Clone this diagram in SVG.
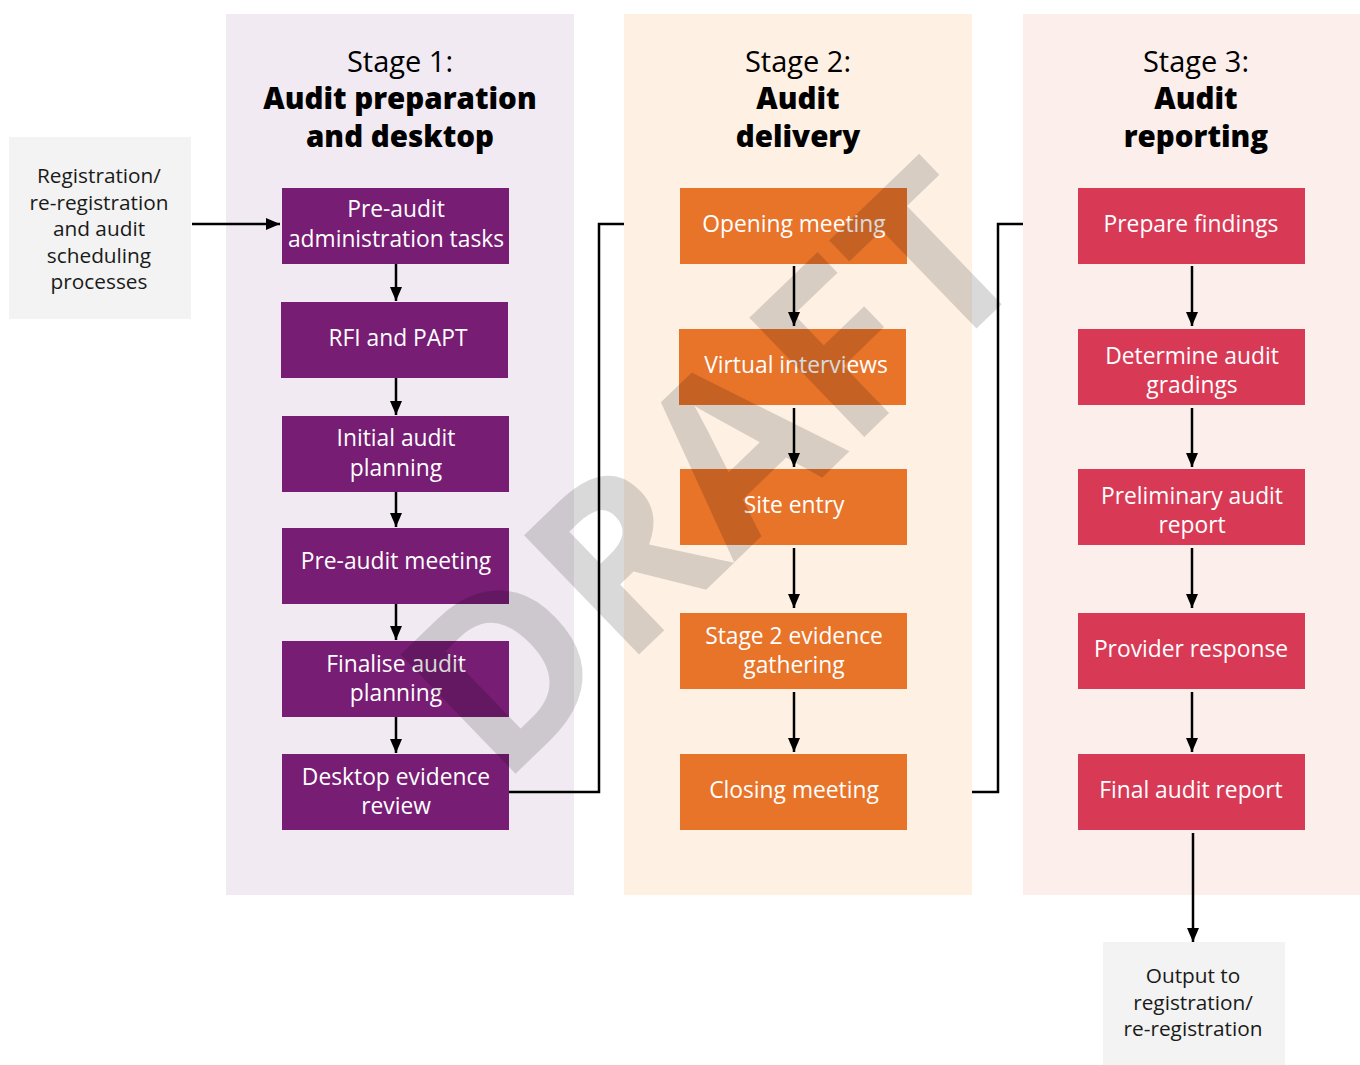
<svg xmlns="http://www.w3.org/2000/svg" width="1360" height="1065" viewBox="0 0 1360 1065">
<defs>
<marker id="ah" markerWidth="14" markerHeight="12" refX="14" refY="6" orient="auto" markerUnits="userSpaceOnUse">
<path d="M0,0 L14,6 L0,12 Z" fill="#000"/>
</marker>
<style>
text{font-family:"Open Sans","Noto Sans","DejaVu Sans",sans-serif;}
.bl{font-size:22.8px;fill:#fff;text-anchor:middle;}
.gl{font-size:20.8px;fill:#1a1a1a;text-anchor:middle;}
.hs{font-size:29px;fill:#000;text-anchor:middle;}
.hb{font-size:29.5px;font-weight:800;fill:#000;text-anchor:middle;}
.p{fill:#771D74;}
.o{fill:#E8742A;}
.r{fill:#D83A56;}
.g{fill:#F2F3F2;}
.ln{stroke:#000;stroke-width:2.5;fill:none;}
.ar{stroke:#000;stroke-width:2.5;fill:none;marker-end:url(#ah);}
</style>
</defs>
<rect width="1360" height="1065" fill="#fff"/>
<g id="columns">
<rect x="226" y="14" width="348" height="881" fill="#F1EAF3"/>
<rect x="624" y="14" width="348" height="881" fill="#FEF1E4"/>
<rect x="1023" y="14" width="337" height="881" fill="#FCEEEB"/>
</g>
<g id="stage1-header">
<text class="hs" x="400" y="72">Stage 1:</text>
<text class="hb" x="400" y="109">Audit preparation</text>
<text class="hb" x="400" y="147">and desktop</text>
</g>
<g id="stage2-header">
<text class="hs" x="798" y="72">Stage 2:</text>
<text class="hb" x="798" y="109">Audit</text>
<text class="hb" x="798" y="147">delivery</text>
</g>
<g id="stage3-header">
<text class="hs" x="1196" y="72">Stage 3:</text>
<text class="hb" x="1196" y="109">Audit</text>
<text class="hb" x="1196" y="147">reporting</text>
</g>
<g id="connectors">
<path class="ar" d="M192,224 H280"/>
<path class="ar" d="M396,264 V301"/>
<path class="ar" d="M396,378 V415"/>
<path class="ar" d="M396,492 V527"/>
<path class="ar" d="M396,604 V640"/>
<path class="ar" d="M396,717 V753"/>
<path class="ln" d="M509,792 H599 V224 H624"/>
<path class="ar" d="M794,266 V326"/>
<path class="ar" d="M794,408 V467"/>
<path class="ar" d="M794,548 V608"/>
<path class="ar" d="M794,692 V752"/>
<path class="ln" d="M972,792 H998 V224 H1023"/>
<path class="ar" d="M1192,266 V326"/>
<path class="ar" d="M1192,408 V467"/>
<path class="ar" d="M1192,548 V608"/>
<path class="ar" d="M1192,692 V752"/>
<path class="ar" d="M1193,833 V942"/>
</g>
<g id="input">
<rect class="g" x="9" y="137" width="182" height="182"/>
<text class="gl" x="99" y="183">Registration/</text>
<text class="gl" x="99" y="209.5">re-registration</text>
<text class="gl" x="99" y="236">and audit</text>
<text class="gl" x="99" y="262.5">scheduling</text>
<text class="gl" x="99" y="289">processes</text>
</g>
<g id="s1-preaudit-admin">
<rect class="p" x="282" y="188" width="227" height="76"/>
<text class="bl" x="396" y="217">Pre-audit</text>
<text class="bl" x="396" y="247">administration tasks</text>
</g>
<g id="s1-rfi">
<rect class="p" x="281" y="302" width="227" height="76"/>
<text class="bl" x="398" y="346">RFI and PAPT</text>
</g>
<g id="s1-initial-planning">
<rect class="p" x="282" y="416" width="227" height="76"/>
<text class="bl" x="396" y="446">Initial audit</text>
<text class="bl" x="396" y="476">planning</text>
</g>
<g id="s1-preaudit-meeting">
<rect class="p" x="282" y="528" width="227" height="76"/>
<text class="bl" x="396" y="569">Pre-audit meeting</text>
</g>
<g id="s1-finalise">
<rect class="p" x="282" y="641" width="227" height="76"/>
<text class="bl" x="396" y="672">Finalise audit</text>
<text class="bl" x="396" y="701">planning</text>
</g>
<g id="s1-desktop">
<rect class="p" x="282" y="754" width="227" height="76"/>
<text class="bl" x="396" y="785">Desktop evidence</text>
<text class="bl" x="396" y="814">review</text>
</g>
<g id="s2-opening">
<rect class="o" x="680" y="188" width="227" height="76"/>
<text class="bl" x="794" y="232">Opening meeting</text>
</g>
<g id="s2-virtual">
<rect class="o" x="679" y="329" width="227" height="76"/>
<text class="bl" x="796" y="373">Virtual interviews</text>
</g>
<g id="s2-site">
<rect class="o" x="680" y="469" width="227" height="76"/>
<text class="bl" x="794" y="513">Site entry</text>
</g>
<g id="s2-evidence">
<rect class="o" x="680" y="613" width="227" height="76"/>
<text class="bl" x="794" y="644">Stage 2 evidence</text>
<text class="bl" x="794" y="673">gathering</text>
</g>
<g id="s2-closing">
<rect class="o" x="680" y="754" width="227" height="76"/>
<text class="bl" x="794" y="798">Closing meeting</text>
</g>
<g id="s3-prepare">
<rect class="r" x="1078" y="188" width="227" height="76"/>
<text class="bl" x="1191" y="232">Prepare findings</text>
</g>
<g id="s3-gradings">
<rect class="r" x="1078" y="329" width="227" height="76"/>
<text class="bl" x="1192" y="364">Determine audit</text>
<text class="bl" x="1192" y="393">gradings</text>
</g>
<g id="s3-preliminary">
<rect class="r" x="1078" y="469" width="227" height="76"/>
<text class="bl" x="1192" y="504">Preliminary audit</text>
<text class="bl" x="1192" y="533">report</text>
</g>
<g id="s3-provider">
<rect class="r" x="1078" y="613" width="227" height="76"/>
<text class="bl" x="1191" y="657">Provider response</text>
</g>
<g id="s3-final">
<rect class="r" x="1078" y="754" width="227" height="76"/>
<text class="bl" x="1191" y="798">Final audit report</text>
</g>
<g id="output">
<rect class="g" x="1103" y="942" width="182" height="123"/>
<text class="gl" x="1193" y="983">Output to</text>
<text class="gl" x="1193" y="1009.5">registration/</text>
<text class="gl" x="1193" y="1036">re-registration</text>
</g>
<g id="watermark">
<text x="0" y="0" transform="translate(712,470) rotate(-44)" text-anchor="middle" dy="82" style="font-family:'Open Sans',sans-serif;font-size:232px;font-weight:700;fill:#000;fill-opacity:0.15">DRAFT</text>
</g>
</svg>
